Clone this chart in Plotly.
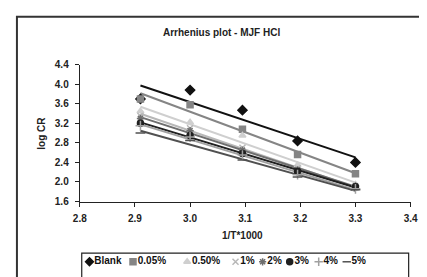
import numpy as np
import plotly.graph_objects as go

W, H = 427, 277
OFF = 8  # page body margin offset

x_vals = [2.91, 3.00, 3.095, 3.195, 3.30]
series_names = ["Blank", "0.05%", "0.50%", "1%", "2%", "3%", "4%", "5%"]
blank = [3.70, 3.88, 3.47, 2.84, 2.40]
c005 = [3.70, 3.58, 3.08, 2.56, 2.17]
c050 = [3.45, 3.22, 2.95, 2.35, 1.95]
c1 = [3.35, 3.10, 2.70, 2.28, 1.88]
c2 = [3.30, 3.05, 2.65, 2.25, 1.92]
c3 = [3.20, 2.95, 2.58, 2.22, 1.90]
c4 = [3.15, 2.92, 2.55, 2.15, 1.86]
c5 = [3.00, 2.85, 2.45, 2.10, 1.84]
series_values = [blank, c005, c050, c1, c2, c3, c4, c5]

x_ticks = [2.8, 2.9, 3.0, 3.1, 3.2, 3.3, 3.4]
y_ticks = [1.6, 2.0, 2.4, 2.8, 3.2, 3.6, 4.0, 4.4]

colors = ["#111111", "#858585", "#cfcfcf", "#b8b8b8", "#6e6e6e", "#202020", "#a0a0a0", "#505050"]
symbols = ["diamond", "square", "triangle-up", "x-thin", "asterisk", "circle", "cross-thin", "line-ew"]
sizes = [7, 6, 6, 6, 6, 6, 7, 7]

FONT = "Liberation Sans, Arial, sans-serif"


def px_x(p):
    return (p - OFF) / W


def px_y(p):
    return 1 - (p - OFF) / H


fig = go.Figure()

# trendlines (linear least-squares fit of each series)
for name, vals, col in zip(series_names, series_values, colors):
    xs = np.array(x_vals)
    ys = np.array(vals)
    m, b = np.polyfit(xs, ys, 1)
    fx = [xs.min(), xs.max()]
    fig.add_trace(go.Scatter(x=fx, y=[m * v + b for v in fx], mode="lines",
                             line=dict(color=col, width=2), showlegend=False,
                             hoverinfo="skip", xaxis="x", yaxis="y"))
for name, vals, col, sym, sz in zip(series_names, series_values, colors, symbols, sizes):
    fig.add_trace(go.Scatter(x=x_vals, y=vals, mode="markers", name=name,
                             marker=dict(symbol=sym, size=sz, color=col,
                                         line=dict(color=col, width=1.5)),
                             showlegend=False, xaxis="x", yaxis="y"))

# manual legend drawn in its own pixel-scaled axes
leg_sym_x = [85, 130, 186, 236, 264, 292, 322, 351]
for i, (name, col, sym) in enumerate(zip(series_names, colors, symbols)):
    fig.add_trace(go.Scatter(x=[leg_sym_x[i]], y=[0], mode="markers+text",
                             text=["<b>" + name + "</b>"],
                             textposition="middle right",
                             textfont=dict(family=FONT, size=10, color="#111111"),
                             marker=dict(symbol=sym, size=6, color=col,
                                         line=dict(color=col, width=1.5)),
                             showlegend=False, hoverinfo="skip",
                             xaxis="x2", yaxis="y2", cliponaxis=False))

tickfont = dict(family=FONT, size=10, color="#222", weight="bold")
annfont = dict(family=FONT, size=10, color="#222")

fig.update_layout(
    width=W, height=H,
    margin=dict(l=0, r=0, t=0, b=0),
    paper_bgcolor="white", plot_bgcolor="white",
    showlegend=False,
    xaxis=dict(domain=[px_x(75), px_x(417)], range=[2.8, 3.4],
               tickvals=x_ticks, ticktext=[f"{v:.1f}" for v in x_ticks],
               showgrid=False, zeroline=False, showline=True, linecolor="#222", linewidth=1.2,
               ticks="outside", ticklen=4, tickcolor="#222", ticklabelstandoff=3,
               tickfont=tickfont, anchor="y"),
    yaxis=dict(domain=[px_y(204), px_y(61)], range=[1.6, 4.4],
               tickvals=y_ticks, ticktext=[f"{v:.1f}" for v in y_ticks],
               showgrid=False, zeroline=False, showline=True, linecolor="#222", linewidth=1.2,
               ticks="outside", ticklen=4, tickcolor="#222", ticklabelstandoff=4,
               tickfont=tickfont, anchor="x"),
    xaxis2=dict(domain=[0, 1], range=[OFF, W + OFF], visible=False, anchor="y2"),
    yaxis2=dict(domain=[px_y(277), px_y(257)], range=[-1, 1], visible=False, anchor="x2"),
    shapes=[
        dict(type="rect", xref="paper", yref="paper", x0=px_x(10), x1=px_x(440),
             y0=px_y(300), y1=px_y(11), line=dict(color="#333", width=2)),
        dict(type="rect", xref="paper", yref="paper", x0=px_x(77), x1=px_x(415),
             y0=px_y(290), y1=px_y(258), line=dict(color="#222", width=1.2)),
    ],
    annotations=[
        dict(text="<b>Arrhenius plot - MJF HCl</b>", xref="paper", yref="paper",
             x=px_x(222), y=px_y(27), showarrow=False, xanchor="center", yanchor="middle",
             font=annfont),
        dict(text="<b>log CR</b>", xref="paper", yref="paper", textangle=-90,
             x=px_x(36), y=px_y(133), showarrow=False, xanchor="center", yanchor="middle",
             font=annfont),
        dict(text="<b>1/T*1000</b>", xref="paper", yref="paper",
             x=px_x(243), y=px_y(240), showarrow=False, xanchor="center", yanchor="middle",
             font=annfont),
    ],
)

fig.write_html("out.html")
